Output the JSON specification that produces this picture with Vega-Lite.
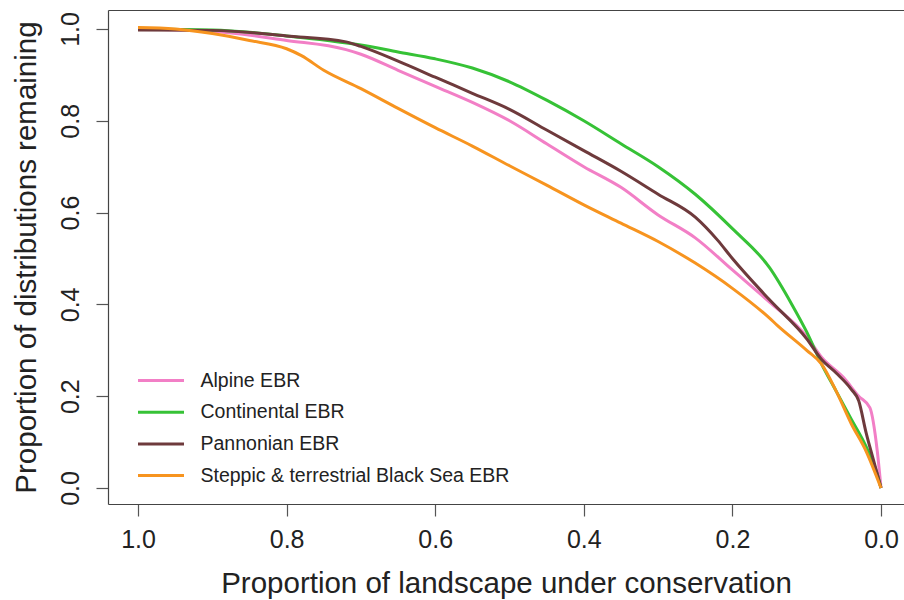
{
  "$schema": "https://vega.github.io/schema/vega-lite/v6.json",
  "width": 796,
  "height": 494,
  "autosize": {"type": "none"},
  "padding": {"left": 108, "top": 10, "right": 0, "bottom": 96},
  "background": "white",
  "config": {
    "view": {"stroke": null},
    "font": "Liberation Sans",
    "axis": {"grid": false, "domainColor": "#444", "tickColor": "#555", "labelColor": "#222", "titleColor": "#222", "labelFont": "Liberation Sans", "titleFont": "Liberation Sans", "titleFontWeight": "normal", "domainWidth": 1.2, "tickWidth": 1.2}
  },
  "data": {"values": [
    {"region": "Alpine EBR", "x": 1.0, "y": 1.0},
    {"region": "Alpine EBR", "x": 0.9, "y": 0.995},
    {"region": "Alpine EBR", "x": 0.8, "y": 0.975},
    {"region": "Alpine EBR", "x": 0.72, "y": 0.955},
    {"region": "Alpine EBR", "x": 0.7, "y": 0.945},
    {"region": "Alpine EBR", "x": 0.65, "y": 0.91},
    {"region": "Alpine EBR", "x": 0.6, "y": 0.875},
    {"region": "Alpine EBR", "x": 0.55, "y": 0.84},
    {"region": "Alpine EBR", "x": 0.5, "y": 0.8},
    {"region": "Alpine EBR", "x": 0.45, "y": 0.75},
    {"region": "Alpine EBR", "x": 0.4, "y": 0.7},
    {"region": "Alpine EBR", "x": 0.35, "y": 0.655},
    {"region": "Alpine EBR", "x": 0.3, "y": 0.595},
    {"region": "Alpine EBR", "x": 0.25, "y": 0.545},
    {"region": "Alpine EBR", "x": 0.2, "y": 0.475},
    {"region": "Alpine EBR", "x": 0.15, "y": 0.405},
    {"region": "Alpine EBR", "x": 0.1, "y": 0.33},
    {"region": "Alpine EBR", "x": 0.08, "y": 0.285},
    {"region": "Alpine EBR", "x": 0.05, "y": 0.24},
    {"region": "Alpine EBR", "x": 0.03, "y": 0.2},
    {"region": "Alpine EBR", "x": 0.015, "y": 0.175},
    {"region": "Alpine EBR", "x": 0.005, "y": 0.08},
    {"region": "Alpine EBR", "x": 0.0, "y": 0.0},
    {"region": "Continental EBR", "x": 1.0, "y": 1.0},
    {"region": "Continental EBR", "x": 0.9, "y": 0.998},
    {"region": "Continental EBR", "x": 0.8, "y": 0.985},
    {"region": "Continental EBR", "x": 0.7, "y": 0.965},
    {"region": "Continental EBR", "x": 0.65, "y": 0.95},
    {"region": "Continental EBR", "x": 0.6, "y": 0.935},
    {"region": "Continental EBR", "x": 0.55, "y": 0.915},
    {"region": "Continental EBR", "x": 0.5, "y": 0.885},
    {"region": "Continental EBR", "x": 0.45, "y": 0.845},
    {"region": "Continental EBR", "x": 0.4, "y": 0.8},
    {"region": "Continental EBR", "x": 0.35, "y": 0.75},
    {"region": "Continental EBR", "x": 0.3, "y": 0.7},
    {"region": "Continental EBR", "x": 0.25, "y": 0.64},
    {"region": "Continental EBR", "x": 0.2, "y": 0.565},
    {"region": "Continental EBR", "x": 0.15, "y": 0.48},
    {"region": "Continental EBR", "x": 0.12, "y": 0.4},
    {"region": "Continental EBR", "x": 0.1, "y": 0.34},
    {"region": "Continental EBR", "x": 0.08, "y": 0.27},
    {"region": "Continental EBR", "x": 0.06, "y": 0.21},
    {"region": "Continental EBR", "x": 0.04, "y": 0.15},
    {"region": "Continental EBR", "x": 0.02, "y": 0.09},
    {"region": "Continental EBR", "x": 0.005, "y": 0.03},
    {"region": "Continental EBR", "x": 0.0, "y": 0.0},
    {"region": "Pannonian EBR", "x": 1.0, "y": 0.998},
    {"region": "Pannonian EBR", "x": 0.9, "y": 0.997},
    {"region": "Pannonian EBR", "x": 0.8, "y": 0.985},
    {"region": "Pannonian EBR", "x": 0.72, "y": 0.972},
    {"region": "Pannonian EBR", "x": 0.7, "y": 0.962},
    {"region": "Pannonian EBR", "x": 0.65, "y": 0.93},
    {"region": "Pannonian EBR", "x": 0.6, "y": 0.895},
    {"region": "Pannonian EBR", "x": 0.55, "y": 0.86},
    {"region": "Pannonian EBR", "x": 0.5, "y": 0.825},
    {"region": "Pannonian EBR", "x": 0.45, "y": 0.78},
    {"region": "Pannonian EBR", "x": 0.4, "y": 0.735},
    {"region": "Pannonian EBR", "x": 0.35, "y": 0.69},
    {"region": "Pannonian EBR", "x": 0.3, "y": 0.64},
    {"region": "Pannonian EBR", "x": 0.25, "y": 0.59},
    {"region": "Pannonian EBR", "x": 0.22, "y": 0.54},
    {"region": "Pannonian EBR", "x": 0.2, "y": 0.5},
    {"region": "Pannonian EBR", "x": 0.15, "y": 0.41},
    {"region": "Pannonian EBR", "x": 0.1, "y": 0.325},
    {"region": "Pannonian EBR", "x": 0.08, "y": 0.28},
    {"region": "Pannonian EBR", "x": 0.06, "y": 0.25},
    {"region": "Pannonian EBR", "x": 0.04, "y": 0.215},
    {"region": "Pannonian EBR", "x": 0.03, "y": 0.19},
    {"region": "Pannonian EBR", "x": 0.02, "y": 0.12},
    {"region": "Pannonian EBR", "x": 0.01, "y": 0.06},
    {"region": "Pannonian EBR", "x": 0.0, "y": 0.0},
    {"region": "Steppic & terrestrial Black Sea EBR", "x": 1.0, "y": 1.003},
    {"region": "Steppic & terrestrial Black Sea EBR", "x": 0.95, "y": 1.0},
    {"region": "Steppic & terrestrial Black Sea EBR", "x": 0.9, "y": 0.99},
    {"region": "Steppic & terrestrial Black Sea EBR", "x": 0.85, "y": 0.975},
    {"region": "Steppic & terrestrial Black Sea EBR", "x": 0.8, "y": 0.957},
    {"region": "Steppic & terrestrial Black Sea EBR", "x": 0.78, "y": 0.942},
    {"region": "Steppic & terrestrial Black Sea EBR", "x": 0.75, "y": 0.91},
    {"region": "Steppic & terrestrial Black Sea EBR", "x": 0.7, "y": 0.87},
    {"region": "Steppic & terrestrial Black Sea EBR", "x": 0.65, "y": 0.827},
    {"region": "Steppic & terrestrial Black Sea EBR", "x": 0.6, "y": 0.785},
    {"region": "Steppic & terrestrial Black Sea EBR", "x": 0.55, "y": 0.745},
    {"region": "Steppic & terrestrial Black Sea EBR", "x": 0.5, "y": 0.702},
    {"region": "Steppic & terrestrial Black Sea EBR", "x": 0.45, "y": 0.66},
    {"region": "Steppic & terrestrial Black Sea EBR", "x": 0.4, "y": 0.617},
    {"region": "Steppic & terrestrial Black Sea EBR", "x": 0.35, "y": 0.577},
    {"region": "Steppic & terrestrial Black Sea EBR", "x": 0.3, "y": 0.537},
    {"region": "Steppic & terrestrial Black Sea EBR", "x": 0.25, "y": 0.49},
    {"region": "Steppic & terrestrial Black Sea EBR", "x": 0.2, "y": 0.435},
    {"region": "Steppic & terrestrial Black Sea EBR", "x": 0.15, "y": 0.37},
    {"region": "Steppic & terrestrial Black Sea EBR", "x": 0.14, "y": 0.355},
    {"region": "Steppic & terrestrial Black Sea EBR", "x": 0.1, "y": 0.3},
    {"region": "Steppic & terrestrial Black Sea EBR", "x": 0.08, "y": 0.27},
    {"region": "Steppic & terrestrial Black Sea EBR", "x": 0.06, "y": 0.21},
    {"region": "Steppic & terrestrial Black Sea EBR", "x": 0.04, "y": 0.14},
    {"region": "Steppic & terrestrial Black Sea EBR", "x": 0.02, "y": 0.08},
    {"region": "Steppic & terrestrial Black Sea EBR", "x": 0.0, "y": 0.0}
  ]},
  "layer": [
    {
      "mark": {"type": "line", "strokeWidth": 3, "interpolate": "monotone"},
      "encoding": {
        "x": {"field": "x", "type": "quantitative",
          "scale": {"domain": [-0.03095, 1.04038], "reverse": true, "nice": false, "zero": false},
          "axis": {"values": [0, 0.2, 0.4, 0.6, 0.8, 1.0], "format": ".1f", "tickSize": 12, "labelFontSize": 25, "labelPadding": 11, "labelFlush": false,
            "title": "Proportion of landscape under conservation", "titleFontSize": 29.5, "titleBaseline": "alphabetic", "titleAnchor": "middle", "titleY": 88.5}
        },
        "y": {"field": "y", "type": "quantitative",
          "scale": {"domain": [-0.03486, 1.04139], "nice": false, "zero": false},
          "axis": {"values": [0, 0.2, 0.4, 0.6, 0.8, 1.0], "format": ".1f", "tickSize": 12, "labelFontSize": 25, "labelPadding": 18, "labelAngle": -90, "labelAlign": "center", "labelBaseline": "alphabetic", "labelFlush": false,
            "title": "Proportion of distributions remaining", "titleFontSize": 29.5, "titleAngle": -90, "titleAlign": "center", "titleBaseline": "alphabetic", "titleX": -73, "titleY": 247}
        },
        "color": {"field": "region", "type": "nominal",
          "scale": {"domain": ["Alpine EBR", "Continental EBR", "Pannonian EBR", "Steppic & terrestrial Black Sea EBR"],
                    "range": ["#F27FC6", "#36C236", "#6E3A3C", "#F7941F"]},
          "legend": {"orient": "none", "legendX": 28.5, "legendY": 360.5, "title": null, "symbolType": "stroke", "symbolSize": 2116, "symbolStrokeWidth": 3, "clipHeight": 20, "labelFontSize": 19.5, "labelFont": "Liberation Sans", "labelColor": "#222", "labelOffset": 15, "rowPadding": 11.7, "labelLimit": 500}
        }
      }
    },
    {
      "mark": {"type": "line", "opacity": 0},
      "encoding": {
        "x": {"field": "x", "type": "quantitative",
          "axis": {"orient": "top", "labels": false, "ticks": false, "title": null, "domain": true}},
        "y": {"field": "y", "type": "quantitative", "axis": null},
        "detail": {"field": "region"}
      }
    }
  ],
  "resolve": {"axis": {"x": "independent", "y": "independent"}}
}
